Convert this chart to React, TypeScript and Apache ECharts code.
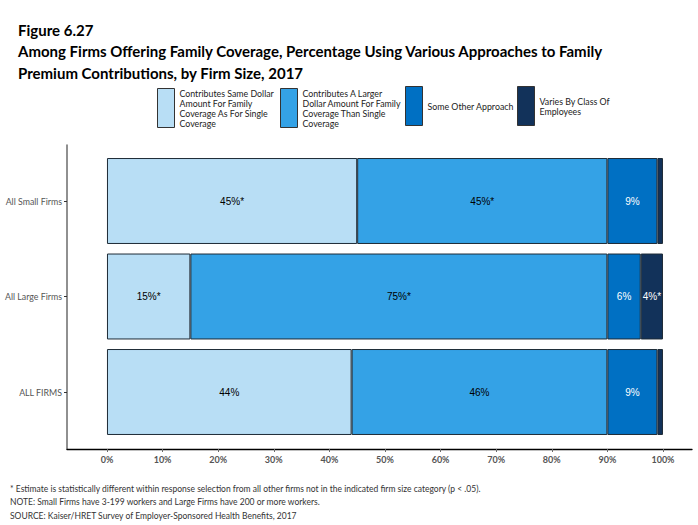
import React, { useEffect, useRef } from "react";
import * as echarts from "echarts";

const categories = ["All Small Firms", "All Large Firms", "ALL FIRMS"];
const seriesNames = [
  "Contributes Same Dollar Amount For Family Coverage As For Single Coverage",
  "Contributes A Larger Dollar Amount For Family Coverage Than Single Coverage",
  "Some Other Approach",
  "Varies By Class Of Employees",
];
const legendLabels = [
  "Contributes Same Dollar\nAmount For Family\nCoverage As For Single\nCoverage",
  "Contributes A Larger\nDollar Amount For Family\nCoverage Than Single\nCoverage",
  "Some Other Approach",
  "Varies By Class Of\nEmployees",
];
const sameAmount = [45, 15, 44];
const largerAmount = [45, 75, 46];
const otherApproach = [9, 6, 9];
const variesByClass = [1, 4, 1];
const sameSig = [true, true, false];
const largerSig = [true, true, false];
const otherSig = [false, false, false];
const variesSig = [false, true, false];
const xTicks = [0, 10, 20, 30, 40, 50, 60, 70, 80, 90, 100];

const colors = ["#b8def5", "#34a2e6", "#0070c3", "#12325a"];
const labelColors = ["#000", "#000", "#fff", "#fff"];
const legendLeft = [157, 280, 405, 517];

const titleText =
  "Figure 6.27\nAmong Firms Offering Family Coverage, Percentage Using Various Approaches to Family\nPremium Contributions, by Firm Size, 2017";
const footText =
  "* Estimate is statistically different within response selection from all other firms not in the indicated firm size category (p < .05).\nNOTE: Small Firms have 3-199 workers and Large Firms have 200 or more workers.\nSOURCE: Kaiser/HRET Survey of Employer-Sponsored Health Benefits, 2017";

export default function App() {
  const ref = useRef<HTMLDivElement>(null);
  useEffect(() => {
    const chart = echarts.init(ref.current!, null, { renderer: "svg" });
    const values = [sameAmount, largerAmount, otherApproach, variesByClass];
    const sigs = [sameSig, largerSig, otherSig, variesSig];
    const axisColor = "#6b6b6b";
    const option: any = {
      animation: false,
      backgroundColor: "#fff",
      title: [
        {
          text: titleText,
          left: 18,
          top: 19,
          padding: 0,
          textStyle: {
            fontFamily: "Lato",
            fontSize: 15,
            fontWeight: "bold",
            color: "#000",
            lineHeight: 21.5,
          },
        },
        {
          text: footText,
          left: 10,
          top: 482,
          padding: 0,
          textStyle: {
            fontFamily: "Lato",
            fontSize: 8.5,
            fontWeight: "normal",
            color: "#333",
            lineHeight: 13.5,
          },
        },
      ],
      legend: seriesNames.map((name, i) => ({
        data: [name],
        left: legendLeft[i],
        top: 86,
        padding: 0,
        itemWidth: 17,
        itemHeight: 39,
        icon: "rect",
        selectedMode: false,
        formatter: () => legendLabels[i],
        itemStyle: { borderColor: "#333", borderWidth: 1 },
        textStyle: {
          fontFamily: "Lato",
          fontSize: 8.8,
          lineHeight: 10,
          color: "#222",
          padding: [4, 0, 0, 0],
        },
      })),
      grid: [
        { left: 67, right: 6, top: 145, bottom: 76, outerBoundsMode: "none" },
        { left: 67, right: 6, top: 153.25, bottom: 85.25, outerBoundsMode: "none" },
      ],
      xAxis: [
        {
          gridIndex: 0,
          type: "value",
          min: -7.19,
          max: 105.22,
          axisLine: { show: true, onZero: false, lineStyle: { color: "#000", width: 1.3 } },
          axisTick: {
            show: true,
            customValues: xTicks,
            length: 3,
            lineStyle: { color: axisColor },
          },
          axisLabel: {
            customValues: xTicks,
            formatter: (v: number) => v + "%",
            color: "#555",
            fontSize: 9,
            fontWeight: "bold",
            fontFamily: "Lato",
            margin: 6,
          },
          splitLine: { show: false },
        },
        {
          gridIndex: 1,
          type: "value",
          min: -7.19,
          max: 105.22,
          show: false,
          axisLine: { onZero: false },
          splitLine: { show: false },
        },
      ],
      yAxis: [
        {
          gridIndex: 0,
          type: "value",
          min: 0,
          max: 1,
          axisLine: { show: true, onZero: false, lineStyle: { color: axisColor, width: 1.5 } },
          axisTick: { show: false },
          axisLabel: { show: false },
          splitLine: { show: false },
        },
        {
          gridIndex: 1,
          type: "category",
          data: categories,
          inverse: true,
          axisLine: { show: false, onZero: false },
          axisTick: {
            show: true,
            alignWithLabel: true,
            length: 3,
            lineStyle: { color: "#333" },
          },
          axisLabel: {
            color: "#555",
            fontSize: 8.8,
            fontFamily: "Lato",
            margin: 5,
          },
          splitLine: { show: false },
        },
      ],
      series: seriesNames.map((name, i) => ({
        name,
        type: "bar",
        stack: "total",
        xAxisIndex: 1,
        yAxisIndex: 1,
        barWidth: "90%",
        data: values[i],
        itemStyle: { color: colors[i], borderColor: "#1e2b36", borderWidth: 1 },
        label: {
          show: true,
          position: "inside",
          color: labelColors[i],
          fontFamily: "Liberation Sans",
          fontSize: 10,
          formatter: (p: any) =>
            p.value >= 3 ? p.value + "%" + (sigs[i][p.dataIndex] ? "*" : "") : "",
        },
      })),
    };
    chart.setOption(option);
    return () => chart.dispose();
  }, []);
  return (
    <div
      ref={ref}
      style={{ position: "fixed", left: 0, top: 0, width: 698, height: 525 }}
    />
  );
}
